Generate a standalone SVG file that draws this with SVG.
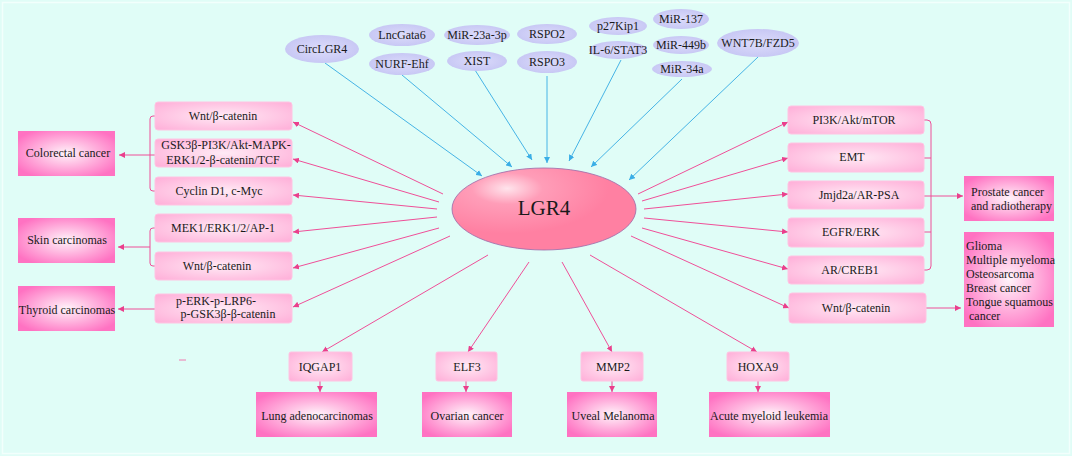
<svg xmlns="http://www.w3.org/2000/svg" width="1072" height="456" viewBox="0 0 1072 456">
<defs>
<style>
text{font-family:"Liberation Serif","Times New Roman",serif;font-size:12px;fill:#1a1a1a}
.c{text-anchor:middle}
.proc{fill:url(#gProc);stroke:#ffc4e2;stroke-width:1}
.canc{fill:url(#gCanc)}
.lav{fill:url(#gLav)}
.pk{stroke:#ef4f98;stroke-width:1;fill:none}
.pka{stroke:#ef4f98;stroke-width:1;fill:none;marker-end:url(#mP)}
.bl{stroke:#46b4e6;stroke-width:1;fill:none;marker-end:url(#mB)}
</style>
<radialGradient id="gProc" cx="50%" cy="50%" r="65%">
<stop offset="0" stop-color="#ffeaf5"/>
<stop offset="1" stop-color="#ffb2da"/>
</radialGradient>
<radialGradient id="gCanc" cx="50%" cy="50%" r="60%">
<stop offset="0" stop-color="#fff4fa"/>
<stop offset="1" stop-color="#ff72c2"/>
</radialGradient>
<radialGradient id="gLav" cx="50%" cy="50%" r="60%">
<stop offset="0" stop-color="#dcdcfb"/>
<stop offset="1" stop-color="#c4c4f3"/>
</radialGradient>
<radialGradient id="gLgr" cx="30%" cy="25%" r="55%">
<stop offset="0" stop-color="#ffe4ec"/>
<stop offset="0.35" stop-color="#ff9db8"/>
<stop offset="1" stop-color="#ff80a2"/>
</radialGradient>
<marker id="mP" markerUnits="userSpaceOnUse" markerWidth="6" markerHeight="6" refX="6" refY="3" orient="auto">
<path d="M0,0 L6,3 L0,6 z" fill="#ea3f8c"/>
</marker>
<marker id="mB" markerUnits="userSpaceOnUse" markerWidth="6" markerHeight="6" refX="6" refY="3" orient="auto">
<path d="M0,0 L6,3 L0,6 z" fill="#3aaee6"/>
</marker>
</defs>
<rect x="0" y="0" width="1072" height="456" fill="#e0fdf7"/>
<rect x="2.5" y="2.5" width="1067" height="451" fill="none" stroke="#f2fffc" stroke-width="1.5"/>

<g id="connectors">
<!-- blue inputs -->
<line class="bl" x1="325" y1="63" x2="482" y2="176"/>
<line class="bl" x1="402" y1="75" x2="512" y2="167"/>
<line class="bl" x1="475" y1="70" x2="532" y2="160"/>
<line class="bl" x1="547" y1="76" x2="547" y2="163"/>
<line class="bl" x1="621" y1="60" x2="569" y2="161"/>
<line class="bl" x1="682" y1="79" x2="591" y2="167"/>
<line class="bl" x1="758" y1="57" x2="629" y2="180"/>
<!-- left outputs -->
<line class="pka" x1="443" y1="194" x2="293" y2="122"/>
<line class="pka" x1="439" y1="202" x2="293" y2="159"/>
<line class="pka" x1="437" y1="209" x2="293" y2="195"/>
<line class="pka" x1="437" y1="217" x2="293" y2="232"/>
<line class="pka" x1="439" y1="228" x2="293" y2="268"/>
<line class="pka" x1="450" y1="236" x2="293" y2="307"/>
<!-- bottom outputs -->
<line class="pka" x1="488" y1="255" x2="322" y2="352"/>
<line class="pka" x1="529" y1="262" x2="468" y2="352"/>
<line class="pka" x1="562" y1="262" x2="612" y2="352"/>
<line class="pka" x1="590" y1="255" x2="757" y2="352"/>
<!-- right outputs -->
<line class="pka" x1="638" y1="194" x2="788" y2="122"/>
<line class="pka" x1="642" y1="201" x2="788" y2="158"/>
<line class="pka" x1="644" y1="209" x2="788" y2="194"/>
<line class="pka" x1="644" y1="218" x2="788" y2="232"/>
<line class="pka" x1="642" y1="228" x2="788" y2="269"/>
<line class="pka" x1="631" y1="236" x2="789" y2="308"/>
<!-- left brackets -->
<path class="pk" d="M155,116 H153 Q150,116 150,119 V188 Q150,191 153,191 H155"/>
<line class="pka" x1="155" y1="155" x2="119" y2="155"/>
<path class="pk" d="M155,228 H153 Q150,228 150,231 V263 Q150,266 153,266 H155"/>
<line class="pka" x1="150" y1="247" x2="118" y2="247"/>
<line class="pka" x1="155" y1="309" x2="118" y2="309"/>
<!-- right bracket -->
<path class="pk" d="M924,120 H927 Q931,120 931,124 V266 Q931,270 927,270 H924"/>
<line class="pk" x1="924" y1="158" x2="931" y2="158"/>
<line class="pk" x1="924" y1="232" x2="931" y2="232"/>
<line class="pka" x1="924" y1="196" x2="963" y2="196"/>
<line class="pka" x1="926" y1="308" x2="961" y2="308"/>
<!-- bottom short arrows -->
<line class="pka" x1="320" y1="381" x2="320" y2="392"/>
<line class="pka" x1="466" y1="381" x2="466" y2="392"/>
<line class="pka" x1="612" y1="381" x2="612" y2="392"/>
<line class="pka" x1="758" y1="381" x2="758" y2="392"/>
<line x1="179" y1="360" x2="186" y2="360" stroke="#f07ab0" stroke-width="1"/>
</g>

<g id="LGR4">
<ellipse cx="544" cy="209" rx="92" ry="41" fill="url(#gLgr)" stroke="#9a6aa8" stroke-width="0.8"/>
<text class="c" x="544" y="215" style="font-size:21px">LGR4</text>
</g>

<g id="CircLGR4"><ellipse class="lav" cx="322" cy="49" rx="37" ry="14"/><text class="c" x="322" y="53">CircLGR4</text></g>
<g id="LncGata6"><ellipse class="lav" cx="402" cy="35" rx="33" ry="11"/><text class="c" x="402" y="39">LncGata6</text></g>
<g id="NURF-Ehf"><ellipse class="lav" cx="402" cy="64" rx="33" ry="11"/><text class="c" x="402" y="68">NURF-Ehf</text></g>
<g id="MiR-23a-3p"><ellipse class="lav" cx="477" cy="35" rx="33" ry="10"/><text class="c" x="477" y="39">MiR-23a-3p</text></g>
<g id="XIST"><ellipse class="lav" cx="477" cy="61" rx="30" ry="10"/><text class="c" x="477" y="65">XIST</text></g>
<g id="RSPO2"><ellipse class="lav" cx="547" cy="34" rx="30" ry="10"/><text class="c" x="547" y="38">RSPO2</text></g>
<g id="RSPO3"><ellipse class="lav" cx="547" cy="62" rx="30" ry="11"/><text class="c" x="547" y="66">RSPO3</text></g>
<g id="p27Kip1"><ellipse class="lav" cx="618" cy="26" rx="29" ry="9"/><text class="c" x="618" y="30">p27Kip1</text></g>
<g id="IL-6-STAT3"><ellipse class="lav" cx="618" cy="50" rx="29" ry="9"/><text class="c" x="618" y="54">IL-6/STAT3</text></g>
<g id="MiR-137"><ellipse class="lav" cx="681" cy="19" rx="28" ry="10"/><text class="c" x="681" y="23">MiR-137</text></g>
<g id="MiR-449b"><ellipse class="lav" cx="681" cy="45" rx="28" ry="9"/><text class="c" x="681" y="49">MiR-449b</text></g>
<g id="MiR-34a"><ellipse class="lav" cx="682" cy="69" rx="30" ry="8"/><text class="c" x="682" y="73">MiR-34a</text></g>
<g id="WNT7B-FZD5"><ellipse class="lav" cx="758" cy="43" rx="41" ry="14"/><text class="c" x="758" y="47">WNT7B/FZD5</text></g>

<g id="L-Wnt1"><rect class="proc" x="155" y="102" width="137" height="28" rx="3"/><text class="c" x="223" y="120">Wnt/β-catenin</text></g>
<g id="L-GSK3b"><rect class="proc" x="155" y="139" width="137" height="28" rx="3"/><text class="c" x="226" y="149">GSK3β-PI3K/Akt-MAPK-</text><text class="c" x="223" y="164">ERK1/2-β-catenin/TCF</text></g>
<g id="L-Cyclin"><rect class="proc" x="155" y="177" width="137" height="28" rx="3"/><text class="c" x="219" y="195">Cyclin D1, c-Myc</text></g>
<g id="L-MEK1"><rect class="proc" x="155" y="214" width="137" height="28" rx="3"/><text class="c" x="223" y="232">MEK1/ERK1/2/AP-1</text></g>
<g id="L-Wnt2"><rect class="proc" x="155" y="252" width="137" height="28" rx="3"/><text class="c" x="217" y="270">Wnt/β-catenin</text></g>
<g id="L-pERK"><rect class="proc" x="155" y="294" width="137" height="29" rx="3"/><text class="c" x="216" y="305">p-ERK-p-LRP6-</text><text class="c" x="228" y="318">p-GSK3β-β-catenin</text></g>

<g id="Colorectal"><rect class="canc" x="18" y="131" width="97" height="45"/><text class="c" x="68" y="157">Colorectal cancer</text></g>
<g id="Skin"><rect class="canc" x="18" y="218" width="97" height="45"/><text class="c" x="67" y="244">Skin carcinomas</text></g>
<g id="Thyroid"><rect class="canc" x="18" y="286" width="97" height="45"/><text class="c" x="67" y="314">Thyroid carcinomas</text></g>

<g id="R-PI3K"><rect class="proc" x="788" y="106" width="136" height="28" rx="3"/><text class="c" x="854" y="124">PI3K/Akt/mTOR</text></g>
<g id="R-EMT"><rect class="proc" x="788" y="143" width="136" height="29" rx="3"/><text class="c" x="852" y="161">EMT</text></g>
<g id="R-Jmjd2a"><rect class="proc" x="788" y="181" width="136" height="28" rx="3"/><text class="c" x="859" y="199">Jmjd2a/AR-PSA</text></g>
<g id="R-EGFR"><rect class="proc" x="788" y="218" width="136" height="29" rx="3"/><text class="c" x="851" y="236">EGFR/ERK</text></g>
<g id="R-AR"><rect class="proc" x="788" y="256" width="136" height="28" rx="3"/><text class="c" x="850" y="274">AR/CREB1</text></g>
<g id="R-Wnt"><rect class="proc" x="789" y="293" width="137" height="30" rx="3"/><text class="c" x="856" y="312">Wnt/β-catenin</text></g>

<g id="Prostate"><rect class="canc" x="964" y="176" width="90" height="45"/><text x="971" y="196">Prostate cancer</text><text x="971" y="210">and radiotherapy</text></g>
<g id="Glioma"><rect class="canc" x="964" y="232" width="90" height="95"/>
<text x="966" y="250">Glioma</text>
<text x="966" y="264">Multiple myeloma</text>
<text x="966" y="278">Osteosarcoma</text>
<text x="966" y="292">Breast cancer</text>
<text x="966" y="306">Tongue squamous</text>
<text x="966" y="320" xml:space="preserve"> cancer</text>
</g>

<g id="IQGAP1"><rect class="proc" x="289" y="352" width="63" height="29" rx="2"/><text class="c" x="320" y="371">IQGAP1</text></g>
<g id="ELF3"><rect class="proc" x="436" y="352" width="61" height="29" rx="2"/><text class="c" x="467" y="371">ELF3</text></g>
<g id="MMP2"><rect class="proc" x="581" y="352" width="62" height="29" rx="2"/><text class="c" x="613" y="371">MMP2</text></g>
<g id="HOXA9"><rect class="proc" x="727" y="352" width="62" height="29" rx="2"/><text class="c" x="758" y="371">HOXA9</text></g>

<g id="Lung"><rect class="canc" x="256" y="392" width="121" height="45"/><text class="c" x="317" y="420">Lung adenocarcinomas</text></g>
<g id="Ovarian"><rect class="canc" x="422" y="392" width="90" height="45"/><text class="c" x="467" y="420">Ovarian cancer</text></g>
<g id="Uveal"><rect class="canc" x="567" y="392" width="90" height="45"/><text class="c" x="613" y="420">Uveal Melanoma</text></g>
<g id="AML"><rect class="canc" x="709" y="392" width="121" height="45"/><text class="c" x="769" y="420">Acute myeloid leukemia</text></g>
</svg>
